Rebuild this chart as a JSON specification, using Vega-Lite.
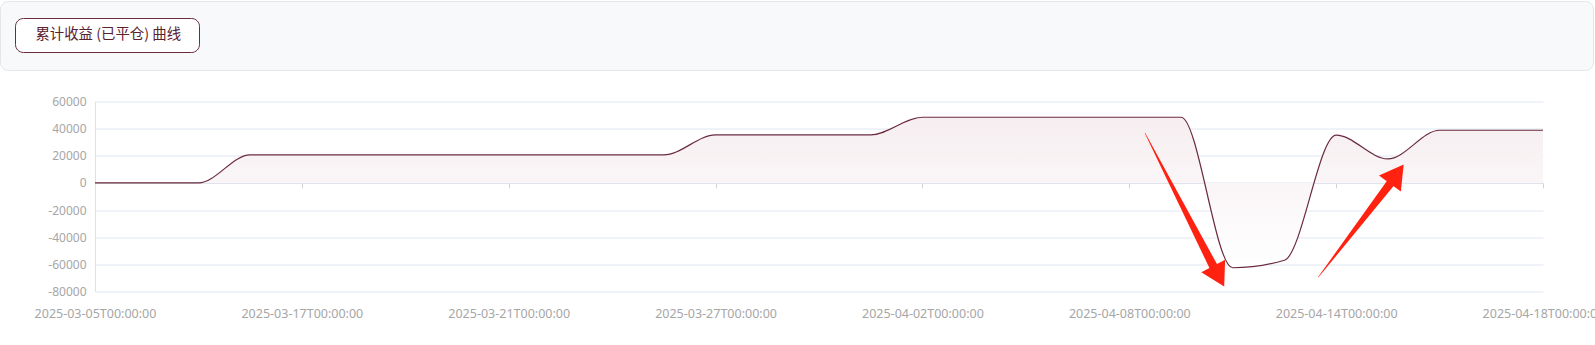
{
  "$schema": "https://vega.github.io/schema/vega-lite/v6.json",
  "autosize": {"type": "none"},
  "padding": {"left": 0, "top": 1, "right": 1595, "bottom": 344},
  "background": "#ffffff",
  "spacing": 24.5,
  "config": {"view": {"stroke": null}},
  "vconcat": [
    {
      "width": 1593,
      "height": 69,
      "view": {"fill": "#f8f9fb", "stroke": "#e3e6eb", "strokeWidth": 1, "cornerRadius": 8},
      "data": {"values": [{}]},
      "mark": {"type": "text", "text": ""}
    },
    {
      "width": 1595,
      "height": 190,
      "resolve": {"scale": {"x": "independent"}, "axis": {"x": "independent"}},
      "layer": [
        {
          "data": {"name": "curve"},
          "mark": {
            "type": "area",
            "interpolate": "monotone",
            "opacity": 1,
            "color": {
              "gradient": "linear", "x1": 0, "y1": 0, "x2": 0, "y2": 1,
              "stops": [{"offset": 0, "color": "#f6eef0"}, {"offset": 1, "color": "#ffffff"}]
            }
          },
          "encoding": {
            "x": {
              "field": "t", "type": "ordinal", "sort": null,
              "scale": {"type": "point", "padding": 0, "range": [95, 1543]},
              "axis": {
                "orient": "bottom", "title": null,
                "values": ["2025-03-05T00:00:00", "2025-03-17T00:00:00", "2025-03-21T00:00:00", "2025-03-27T00:00:00", "2025-04-02T00:00:00", "2025-04-08T00:00:00", "2025-04-14T00:00:00", "2025-04-18T00:00:00"],
                "ticks": false, "tickSize": 0, "domain": false, "grid": false,
                "labelAngle": 0, "labelPadding": 22, "labelBaseline": "middle", "labelAlign": "center",
                "labelFont": "Noto Sans", "labelFontSize": 12.5, "labelColor": "#a6a6a6",
                "labelOverlap": false, "labelBound": false
              }
            },
            "y": {
              "field": "v", "type": "quantitative",
              "scale": {"domain": [-80000, 60000], "nice": false, "zero": false},
              "axis": {
                "title": null, "offset": -95,
                "values": [-80000, -60000, -40000, -20000, 0, 20000, 40000, 60000],
                "grid": true, "gridColor": "#e0e6f1", "gridWidth": 1,
                "ticks": false, "tickSize": 0,
                "domain": true, "domainColor": "#dde2ea",
                "labelOverlap": false,
                "labelPadding": 9, "labelColor": "#a6a6a6", "labelFont": "Noto Sans", "labelFontSize": 12,
                "labelExpr": "'' + datum.value"
              }
            },
            "y2": {"datum": 0}
          }
        },
        {
          "data": {"name": "curve"},
          "mark": {"type": "line", "interpolate": "monotone", "strokeWidth": 1.2},
          "encoding": {
            "x": {
              "field": "t", "type": "ordinal", "sort": null,
              "scale": {"type": "point", "padding": 0, "range": [95, 1543]},
              "axis": {
                "orient": "bottom", "title": null, "offset": -108.6,
                "values": ["2025-03-05T00:00:00", "2025-03-17T00:00:00", "2025-03-21T00:00:00", "2025-03-27T00:00:00", "2025-04-02T00:00:00", "2025-04-08T00:00:00", "2025-04-14T00:00:00", "2025-04-18T00:00:00"],
                "labels": false, "ticks": true, "tickSize": 5, "tickColor": "#cfd3da",
                "domain": true, "domainColor": "#dde2ea", "grid": false
              }
            },
            "y": {
              "field": "v", "type": "quantitative",
              "axis": {
                "title": null, "offset": -95,
                "values": [-80000, -60000, -40000, -20000, 0, 20000, 40000, 60000],
                "grid": true, "gridColor": "#e0e6f1", "gridWidth": 1,
                "ticks": false, "tickSize": 0,
                "domain": true, "domainColor": "#dde2ea",
                "labelOverlap": false,
                "labelPadding": 9, "labelColor": "#a6a6a6", "labelFont": "Noto Sans", "labelFontSize": 12,
                "labelExpr": "'' + datum.value"
              }
            },
            "color": {
              "field": "series", "type": "nominal",
              "scale": {"range": ["#6b2b3e"]},
              "legend": {
                "orient": "none", "legendX": 15, "legendY": 17,
                "title": null, "padding": 10,
                "fillColor": "#ffffff", "strokeColor": "#6b2b3e", "cornerRadius": 8,
                "symbolSize": 0, "symbolStrokeWidth": 0, "symbolOpacity": 0,
                "labelOffset": -4, "labelLimit": 400,
                "labelFont": "Noto Sans CJK SC", "labelFontSize": 14.4, "labelColor": "#5a2131",
                "labelExpr": "datum.label + '\u2002\u200b'"
              }
            }
          }
        },
        {
          "data": {"name": "arrows"},
          "mark": {"type": "trail", "color": "#ff2211", "opacity": 1},
          "encoding": {
            "x": {"field": "idx", "type": "quantitative", "scale": {"domain": [0, 28], "range": [95, 1543], "nice": false, "zero": false}, "axis": null},
            "y": {
              "field": "v", "type": "quantitative",
              "axis": {
                "title": null, "offset": -95,
                "values": [-80000, -60000, -40000, -20000, 0, 20000, 40000, 60000],
                "grid": true, "gridColor": "#e0e6f1", "gridWidth": 1,
                "ticks": false, "tickSize": 0,
                "domain": true, "domainColor": "#dde2ea",
                "labelOverlap": false,
                "labelPadding": 9, "labelColor": "#a6a6a6", "labelFont": "Noto Sans", "labelFontSize": 12,
                "labelExpr": "'' + datum.value"
              }
            },
            "detail": {"field": "arrow"},
            "size": {"field": "part", "type": "ordinal", "scale": {"domain": ["tail", "head"], "range": [0.5, 8.5]}, "legend": null}
          }
        },
        {
          "data": {"values": [{"arrow": "a1", "idx": 21.729, "v": -68799}]},
          "mark": {"type": "point", "shape": "triangle-up", "filled": true, "size": 729, "angle": 152, "color": "#ff2211", "opacity": 1, "strokeWidth": 0},
          "encoding": {
            "x": {"field": "idx", "type": "quantitative", "scale": {"domain": [0, 28], "range": [95, 1543], "nice": false, "zero": false}, "axis": null},
            "y": {
              "field": "v", "type": "quantitative",
              "axis": {
                "title": null, "offset": -95,
                "values": [-80000, -60000, -40000, -20000, 0, 20000, 40000, 60000],
                "grid": true, "gridColor": "#e0e6f1", "gridWidth": 1,
                "ticks": false, "tickSize": 0,
                "domain": true, "domainColor": "#dde2ea",
                "labelOverlap": false,
                "labelPadding": 9, "labelColor": "#a6a6a6", "labelFont": "Noto Sans", "labelFontSize": 12,
                "labelExpr": "'' + datum.value"
              }
            }
          }
        },
        {
          "data": {"values": [{"arrow": "a2", "idx": 25.173, "v": 6580}]},
          "mark": {"type": "point", "shape": "triangle-up", "filled": true, "size": 729, "angle": 36, "color": "#ff2211", "opacity": 1, "strokeWidth": 0},
          "encoding": {
            "x": {"field": "idx", "type": "quantitative", "scale": {"domain": [0, 28], "range": [95, 1543], "nice": false, "zero": false}, "axis": null},
            "y": {
              "field": "v", "type": "quantitative",
              "axis": {
                "title": null, "offset": -95,
                "values": [-80000, -60000, -40000, -20000, 0, 20000, 40000, 60000],
                "grid": true, "gridColor": "#e0e6f1", "gridWidth": 1,
                "ticks": false, "tickSize": 0,
                "domain": true, "domainColor": "#dde2ea",
                "labelOverlap": false,
                "labelPadding": 9, "labelColor": "#a6a6a6", "labelFont": "Noto Sans", "labelFontSize": 12,
                "labelExpr": "'' + datum.value"
              }
            }
          }
        }
      ]
    }
  ],
  "datasets": {
    "curve": [
      {"t": "2025-03-05T00:00:00", "v": 0, "series": "累计收益 (已平仓) 曲线"},
      {"t": "2025-03-07T00:00:00", "v": 0, "series": "累计收益 (已平仓) 曲线"},
      {"t": "2025-03-11T00:00:00", "v": 0, "series": "累计收益 (已平仓) 曲线"},
      {"t": "2025-03-13T00:00:00", "v": 20700, "series": "累计收益 (已平仓) 曲线"},
      {"t": "2025-03-17T00:00:00", "v": 20700, "series": "累计收益 (已平仓) 曲线"},
      {"t": "2025-03-18T00:00:00", "v": 20700, "series": "累计收益 (已平仓) 曲线"},
      {"t": "2025-03-19T00:00:00", "v": 20700, "series": "累计收益 (已平仓) 曲线"},
      {"t": "2025-03-20T00:00:00", "v": 20700, "series": "累计收益 (已平仓) 曲线"},
      {"t": "2025-03-21T00:00:00", "v": 20700, "series": "累计收益 (已平仓) 曲线"},
      {"t": "2025-03-24T00:00:00", "v": 20700, "series": "累计收益 (已平仓) 曲线"},
      {"t": "2025-03-25T00:00:00", "v": 20700, "series": "累计收益 (已平仓) 曲线"},
      {"t": "2025-03-26T00:00:00", "v": 20700, "series": "累计收益 (已平仓) 曲线"},
      {"t": "2025-03-27T00:00:00", "v": 35400, "series": "累计收益 (已平仓) 曲线"},
      {"t": "2025-03-28T00:00:00", "v": 35400, "series": "累计收益 (已平仓) 曲线"},
      {"t": "2025-03-31T00:00:00", "v": 35400, "series": "累计收益 (已平仓) 曲线"},
      {"t": "2025-04-01T00:00:00", "v": 35400, "series": "累计收益 (已平仓) 曲线"},
      {"t": "2025-04-02T00:00:00", "v": 48400, "series": "累计收益 (已平仓) 曲线"},
      {"t": "2025-04-03T00:00:00", "v": 48400, "series": "累计收益 (已平仓) 曲线"},
      {"t": "2025-04-04T00:00:00", "v": 48400, "series": "累计收益 (已平仓) 曲线"},
      {"t": "2025-04-07T00:00:00", "v": 48400, "series": "累计收益 (已平仓) 曲线"},
      {"t": "2025-04-08T00:00:00", "v": 48400, "series": "累计收益 (已平仓) 曲线"},
      {"t": "2025-04-09T00:00:00", "v": 48400, "series": "累计收益 (已平仓) 曲线"},
      {"t": "2025-04-10T00:00:00", "v": -62500, "series": "累计收益 (已平仓) 曲线"},
      {"t": "2025-04-11T00:00:00", "v": -57000, "series": "累计收益 (已平仓) 曲线"},
      {"t": "2025-04-14T00:00:00", "v": 35200, "series": "累计收益 (已平仓) 曲线"},
      {"t": "2025-04-15T00:00:00", "v": 17700, "series": "累计收益 (已平仓) 曲线"},
      {"t": "2025-04-16T00:00:00", "v": 38800, "series": "累计收益 (已平仓) 曲线"},
      {"t": "2025-04-17T00:00:00", "v": 38800, "series": "累计收益 (已平仓) 曲线"},
      {"t": "2025-04-18T00:00:00", "v": 38800, "series": "累计收益 (已平仓) 曲线"}
    ],
    "arrows": [
      {"arrow": "a1", "idx": 20.304, "v": 36644, "part": "tail"},
      {"arrow": "a1", "idx": 21.625, "v": -61431, "part": "head"},
      {"arrow": "a2", "idx": 23.655, "v": -69462, "part": "tail"},
      {"arrow": "a2", "idx": 25.046, "v": -420, "part": "head"}
    ]
  }
}
